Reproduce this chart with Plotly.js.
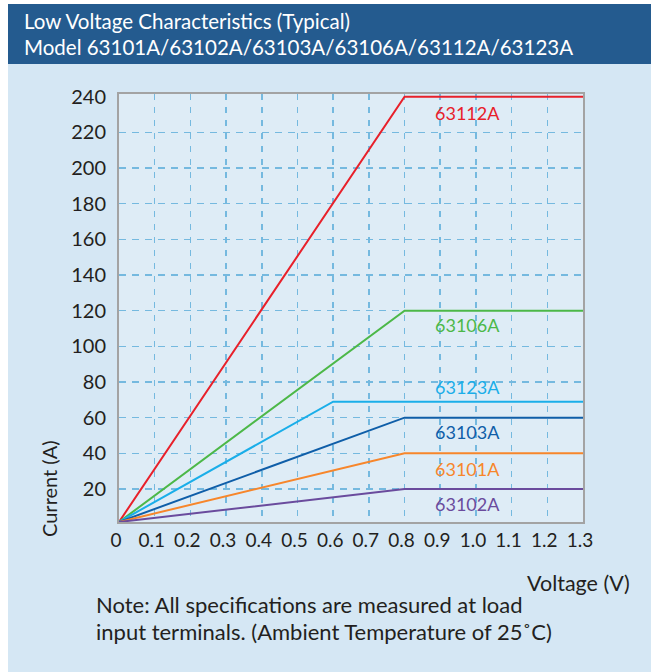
<!DOCTYPE html>
<html>
<head>
<meta charset="utf-8">
<script src="https://cdn.plot.ly/plotly-3.0.1.min.js"></script>
<style>html,body{margin:0;padding:0;background:#fff}#chart{width:653px;height:672px}</style>
</head>
<body>
<div id="chart"></div>
<script>
// ---- data ----
const seriesNames = ["63112A", "63106A", "63123A", "63103A", "63101A", "63102A"];
const seriesColors = ["#e8202a", "#4cb848", "#1aaee9", "#0f5ea8", "#f7862b", "#6a4b9d"];
const v63112A = [0, 0.8, 1.3], i63112A = [1.5, 240, 240];
const v63106A = [0, 0.8, 1.3], i63106A = [1.5, 120, 120];
const v63123A = [0, 0.6, 1.3], i63123A = [1.5, 69, 69];
const v63103A = [0, 0.8, 1.3], i63103A = [1.5, 60, 60];
const v63101A = [0, 0.8, 1.3], i63101A = [1.5, 40, 40];
const v63102A = [0, 0.8, 1.3], i63102A = [1.5, 20, 20];
const labelY = [231, 112, 77, 52, 31, 11.6];
const xTickVals = [0, 0.1, 0.2, 0.3, 0.4, 0.5, 0.6, 0.7, 0.8, 0.9, 1.0, 1.1, 1.2, 1.3];
const xTickText = ["0", "0.1", "0.2", "0.3", "0.4", "0.5", "0.6", "0.7", "0.8", "0.9", "1.0", "1.1", "1.2", "1.3"];
const yTickVals = [20, 40, 60, 80, 100, 120, 140, 160, 180, 200, 220, 240];
const yGridVals = [20, 40, 60, 80, 100, 120, 140, 160, 180, 200, 220];

const xs = [v63112A, v63106A, v63123A, v63103A, v63101A, v63102A];
const ys = [i63112A, i63106A, i63123A, i63103A, i63101A, i63102A];

// ---- layout helpers (pixel -> paper) ----
const W = 653, H = 672, L = 119, R = 70, T = 94, B = 150;
const PW = W - L - R, PH = H - T - B;
const px = x => (x - L) / PW;
const py = y => (H - B - y) / PH;

const FONT = "Lato, 'Open Sans', sans-serif";
const TXT = "#231f20";

const traces = seriesNames.map((n, k) => ({
  type: "scatter", mode: "lines", name: n,
  x: xs[k], y: ys[k],
  line: {color: seriesColors[k], width: 2},
  hoverinfo: "skip"
}));

const annotations = seriesNames.map((n, k) => ({
  x: 0.975, y: labelY[k], xref: "x", yref: "y",
  text: n, showarrow: false,
  font: {family: FONT, size: 18, color: seriesColors[k]},
  xanchor: "center", yanchor: "middle"
}));

annotations.push(
  {xref: "paper", yref: "paper", x: px(22), y: py(21), text: "Low Voltage Characteristics (Typical)",
   showarrow: false, xanchor: "left", yanchor: "middle", font: {family: FONT, size: 20.5, color: "#ffffff"}},
  {xref: "paper", yref: "paper", x: px(22), y: py(47), text: "Model 63101A/63102A/63103A/63106A/63112A/63123A",
   showarrow: false, xanchor: "left", yanchor: "middle", font: {family: FONT, size: 20.5, color: "#ffffff"}},
  {xref: "paper", yref: "paper", x: px(49), y: py(489), text: "Current (A)", textangle: -90,
   showarrow: false, xanchor: "center", yanchor: "middle", font: {family: FONT, size: 20, color: TXT}},
  {xref: "paper", yref: "paper", x: px(632), y: py(583), text: "Voltage (V)",
   showarrow: false, xanchor: "right", yanchor: "middle", font: {family: FONT, size: 21.5, color: TXT}},
  {xref: "paper", yref: "paper", x: px(94), y: py(604), text: "Note: All specifications are measured at load",
   showarrow: false, xanchor: "left", yanchor: "middle", font: {family: FONT, size: 22, color: TXT}},
  {xref: "paper", yref: "paper", x: px(94), y: py(631), text: "input terminals. (Ambient Temperature of 25˚C)",
   showarrow: false, xanchor: "left", yanchor: "middle", font: {family: FONT, size: 22, color: TXT}}
);

const shapes = [
  // white outer edges
  {type: "rect", xref: "paper", yref: "paper", x0: px(0), x1: px(8), y0: py(0), y1: py(H), fillcolor: "#ffffff", line: {width: 0}, layer: "below"},
  {type: "rect", xref: "paper", yref: "paper", x0: px(0), x1: px(W), y0: py(0), y1: py(4), fillcolor: "#ffffff", line: {width: 0}, layer: "below"},
  {type: "rect", xref: "paper", yref: "paper", x0: px(651), x1: px(W), y0: py(0), y1: py(H), fillcolor: "#ffffff", line: {width: 0}, layer: "below"},
  // header band
  {type: "rect", xref: "paper", yref: "paper", x0: px(8), x1: px(651), y0: py(4), y1: py(64), fillcolor: "#245b8f", line: {width: 0}, layer: "below"}
];

const layout = {
  width: W, height: H,
  margin: {l: L, r: R, t: T, b: B, pad: 0},
  paper_bgcolor: "#d5e7f4",
  plot_bgcolor: "#deecf6",
  showlegend: false,
  font: {family: FONT, color: TXT},
  xaxis: {
    range: [0, 1.3], tickvals: xTickVals, ticktext: xTickText, ticks: "",
    showgrid: true, gridcolor: "#75b9df", gridwidth: 1.5, griddash: "6px,7px",
    zeroline: false, showline: true, mirror: true, linecolor: "#a3a3a3", linewidth: 2,
    tickfont: {family: FONT, size: 19, color: TXT}, ticklabelshift: -3, ticklabelstandoff: 0,
    fixedrange: true
  },
  yaxis: {
    range: [1.5, 241.5], tickvals: yTickVals, ticks: "",
    showgrid: false,
    minor: {tickvals: yGridVals, showgrid: true, gridcolor: "#75b9df", gridwidth: 1.5, griddash: "7px,6px", ticks: ""},
    zeroline: false, showline: true, mirror: true, linecolor: "#a3a3a3", linewidth: 2,
    tickfont: {family: FONT, size: 20, color: TXT}, ticklabelstandoff: 7,
    fixedrange: true
  },
  annotations: annotations,
  shapes: shapes
};

Plotly.newPlot("chart", traces, layout, {displayModeBar: false, staticPlot: true});
</script>
</body>
</html>
